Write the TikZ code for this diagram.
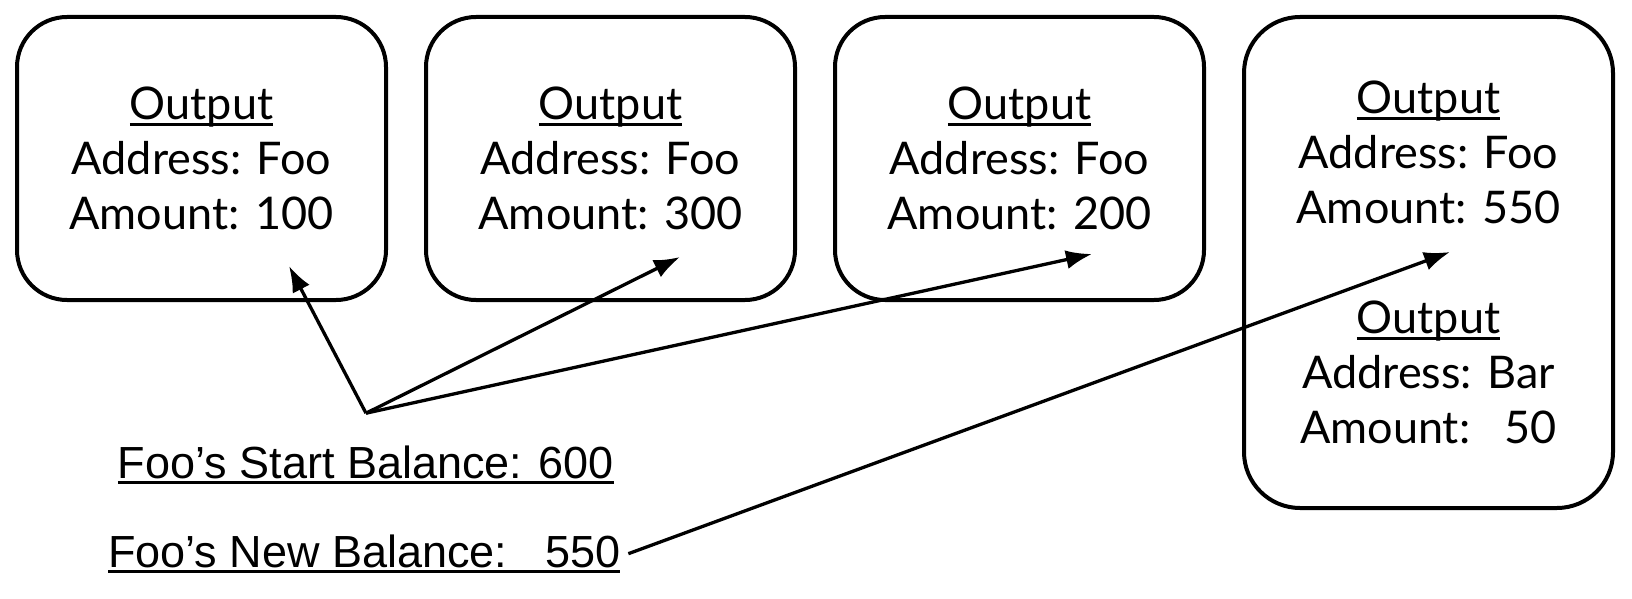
\documentclass[tikz,border=0pt]{standalone}
\usepackage{fontspec}
\setmainfont{Liberation Sans}
\newfontfamily\latofont{Lato}
\usetikzlibrary{arrows.meta,positioning}

% underline that cuts through the descenders
\newcommand{\undl}[2][-6pt]{\setbox0\hbox{#2}\rlap{\rule[#1]{\wd0}{3pt}}\box0}

\tikzset{
  outbox/.style={draw,line width=4pt,rounded corners=50pt,
    minimum width=369pt,minimum height=283pt,inner sep=0pt,align=center,
    font=\latofont\fontsize{45}{55}\selectfont},
  balance/.style={inner xsep=8pt,inner ysep=0pt,font=\fontsize{45}{54}\selectfont},
  link/.style={-{Latex[length=26pt,width=19pt]},line width=3.3pt},
}

\begin{document}
\begin{tikzpicture}[x=1pt,y=-1pt]
\useasboundingbox (0,0) rectangle (1632,599);

% outputs
\node[outbox] (b1) at (201.5,158.5) {\undl{Output}\\Address: Foo\\Amount: 100};
\node[outbox,right=36pt of b1] (b2) {\undl{Output}\\Address: Foo\\Amount: 300};
\node[outbox,right=36pt of b2] (b3) {\undl{Output}\\Address: Foo\\Amount: 200};
\node[outbox,minimum height=491pt,rounded corners=56pt,
  right=36pt of b3.north east,anchor=north west] (b4)
  {\undl{Output}\\Address: Foo\\Amount: 550\\[55pt]\undl{Output}\\Address: Bar\\Amount:\ \ \ 50};

% balances
\node[balance,anchor=base] (start) at (366,478) {\undl{Foo’s Start Balance: 600}};
\node[balance,anchor=base west] (new) at (100,567) {\undl{Foo’s New Balance:\ \ \ 550}};

\coordinate (hub) at ([yshift=32pt]start.north);
\coordinate (t1) at (289,266);
\coordinate (t2) at (680,257);
\coordinate (t3) at (1092,254);
\coordinate (t4) at (1450,252);

\draw[link] (hub) -- (t1);
\draw[link] (hub) -- (t2);
\draw[link] (hub) -- (t3);
\draw[link] (new.east) -- (t4);

\end{tikzpicture}
\end{document}
